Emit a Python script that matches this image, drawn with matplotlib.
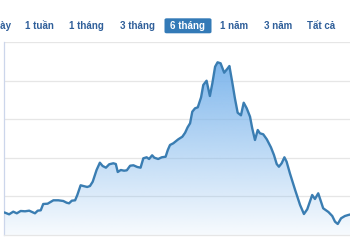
import numpy as np
import matplotlib
matplotlib.use("Agg")
import matplotlib.pyplot as plt
from matplotlib.patches import FancyBboxPatch

# range selector buttons
buttons = ["1 ngày", "1 tuần", "1 tháng", "3 tháng", "6 tháng", "1 năm", "3 năm", "Tất cả"]
button_x = [-4.5, 39.5, 86.5, 137, 187.5, 234, 278.5, 321.5]   # centre, px
selected = "6 tháng"

# price series (day index, value in grid units)
days = [0, 1.5, 3.0, 4.3, 5.7, 7.3, 8.8, 10.9, 11.9, 13.0, 13.9, 15.5, 17.6, 19.4,
        21.2, 22.4, 23.3, 24.3, 25.5, 26.3, 27.5, 28.5, 29.9, 30.9, 31.9, 33.3,
        34.5, 35.5, 36.7, 37.9, 39.4, 40.3, 41.0, 42.1, 43.3, 44.3, 45.5, 46.7,
        48.1, 49.3, 50.3, 51.5, 52.4, 53.5, 54.3, 55.7, 57.0, 58.4, 59.2, 60.0,
        61.2, 63.0, 64.5, 65.5, 66.4, 67.3, 68.1, 69.1, 70.1, 71.3, 72.1, 73.3,
        74.5, 75.4, 76.4, 77.3, 78.4, 79.7, 81.0, 81.6, 82.7, 83.6, 84.6, 85.8,
        86.8, 87.9, 89.1, 89.9, 90.9, 91.9, 92.7, 93.9, 95.2, 96.7, 97.8, 98.8,
        99.6, 100.6, 101.6, 102.4, 103.6, 105.5, 107.3, 108.7, 109.9, 111.7,
        112.7, 113.9, 115.7, 117.6, 119.0, 120.0, 121.0, 122.2, 123.6, 124.8, 126.2]
values = [0.578, 0.536, 0.604, 0.562, 0.622, 0.614, 0.630, 0.562, 0.630, 0.640,
          0.803, 0.811, 0.899, 0.899, 0.881, 0.837, 0.821, 0.889, 0.899, 1.036,
          1.288, 1.269, 1.244, 1.269, 1.381, 1.684, 1.873, 1.788, 1.744, 1.832,
          1.858, 1.839, 1.632, 1.684, 1.666, 1.676, 1.795, 1.806, 1.762, 1.744,
          1.987, 2.013, 1.969, 2.065, 2.003, 1.969, 2.013, 2.028, 2.202, 2.332,
          2.376, 2.479, 2.547, 2.650, 2.790, 2.894, 3.194, 3.282, 3.308, 3.567,
          3.886, 3.997, 3.601, 3.930, 4.360, 4.474, 4.448, 4.205, 4.319, 4.378,
          3.930, 3.541, 3.168, 3.101, 3.427, 3.282, 3.065, 2.764, 2.461, 2.720,
          2.635, 2.609, 2.479, 2.272, 2.073, 1.839, 1.769, 1.858, 2.013, 1.899,
          1.598, 1.166, 0.777, 0.544, 0.666, 1.036, 0.933, 1.080, 0.692, 0.596,
          0.492, 0.345, 0.285, 0.433, 0.492, 0.518, 0.544]
grid_levels = [1, 2, 3, 4, 5]

W, H = 350, 250
fig = plt.figure(figsize=(W / 100, H / 100), dpi=100)
fig.patch.set_facecolor("white")

# button bar
for label, cx in zip(buttons, button_x):
    if label == selected:
        box = FancyBboxPatch((164.5 / W, 1 - 33.3 / H), 47 / W, 15 / H,
                             boxstyle="round,pad=0,rounding_size=0.006",
                             transform=fig.transFigure, facecolor="#337ab7",
                             edgecolor="none")
        fig.patches.append(box)
        color = "white"
    else:
        color = "#2f5f9a"
    fig.text(cx / W, 1 - 25.8 / H, label, ha="center", va="center",
             fontsize=7, fontweight="bold", color=color,
             family=["Liberation Sans", "DejaVu Sans"])

ax = fig.add_axes([4.3 / W, 15 / H, (W - 4.3) / W, 193 / H])
ax.set_xlim(-0.25, 125.45)
ax.set_ylim(0, 5)

x = np.array(days)
y = np.array(values)

# gradient area fill
alpha = np.linspace(0.06, 1.0, 256)
rgba = np.zeros((256, 1, 4))
rgba[..., 0] = 124 / 255
rgba[..., 1] = 181 / 255
rgba[..., 2] = 236 / 255
rgba[:, 0, 3] = alpha
img = ax.imshow(rgba, extent=[-0.25, 130, 0, 4.6], origin="lower",
                aspect="auto", zorder=1, interpolation="bilinear")
poly = ax.fill_between(x, 0, y, facecolor="none", edgecolor="none")
img.set_clip_path(poly.get_paths()[0], transform=ax.transData)

ax.plot(x, y, color="#3a7db2", lw=1.7, zorder=3, solid_joinstyle="round")

for g in grid_levels:
    ax.axhline(g, color="#e6e6e6", lw=0.9, zorder=0)

ax.set_xticks([])
ax.set_yticks([])
for side in ["top", "right"]:
    ax.spines[side].set_visible(False)
ax.spines["left"].set_color("#ccd6eb")
ax.spines["left"].set_linewidth(0.9)
ax.spines["bottom"].set_color("#e6e6e6")
ax.spines["bottom"].set_linewidth(0.9)
ax.set_facecolor("white")

fig.savefig("out.png", dpi=100)
